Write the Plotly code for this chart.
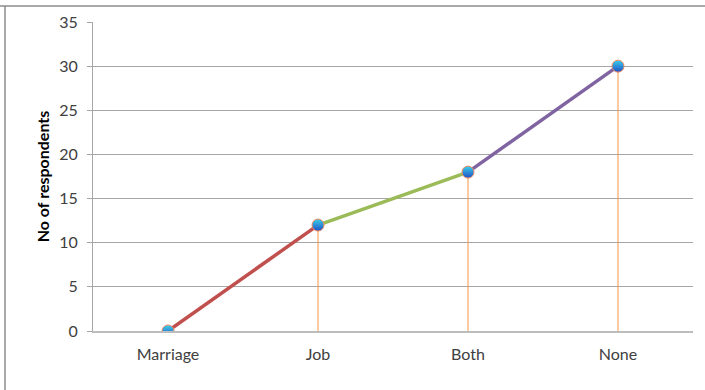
import plotly.graph_objects as go

categories = ["Marriage", "Job", "Both", "None"]
respondents = [0, 12, 18, 30]
segment_colors = ["#C0504D", "#9BBB59", "#8064A2"]
y_ticks = [0, 5, 10, 15, 20, 25, 30, 35]

fig = go.Figure()

# drop lines from each point down to the axis
for cat, val in zip(categories, respondents):
    if val > 0:
        fig.add_trace(go.Scatter(
            x=[cat, cat], y=[0, val], mode="lines",
            line=dict(color="#F79646", width=1), hoverinfo="skip", showlegend=False,
        ))

# coloured segments between consecutive points
for i, col in enumerate(segment_colors):
    fig.add_trace(go.Scatter(
        x=categories[i:i + 2], y=respondents[i:i + 2], mode="lines",
        line=dict(color=col, width=3.5), showlegend=False,
    ))

# point markers: cyan at the top fading to blue at the bottom
fig.add_trace(go.Scatter(
    x=categories, y=respondents, mode="markers",
    marker=dict(size=12, color="#3DD0EA",
                gradient=dict(type="vertical", color="#1F4FC4"),
                line=dict(color="#F08A60", width=1)),
    showlegend=False,
))

fig.update_layout(
    width=705, height=390,
    margin=dict(l=93, r=12, t=22, b=59),
    plot_bgcolor="white", paper_bgcolor="white",
    font=dict(family="Lato, Carlito, sans-serif", size=16, color="#333333"),
    xaxis=dict(
        type="category", categoryorder="array", categoryarray=categories,
        range=[-0.5, 3.5], showgrid=False, showline=True,
        linecolor="#BDBDBD", linewidth=2, ticks="", zeroline=False,
        ticklabelstandoff=8,
        tickfont=dict(size=16, color="#404040"),
    ),
    yaxis=dict(
        range=[0, 35], tickvals=y_ticks, showgrid=True, gridcolor="#A6A6A6",
        gridwidth=1, showline=True, linecolor="#A6A6A6", linewidth=1,
        ticks="outside", ticklen=5, tickcolor="#A6A6A6", zeroline=False,
        ticklabelstandoff=6,
        tickfont=dict(size=16, color="#404040"),
        title=dict(text="<b>No of respondents</b>", standoff=5,
                   font=dict(size=16, color="#000000")),
    ),
    shapes=[
        dict(type="line", xref="paper", yref="paper", x0=-93 / 600, x1=1.02,
             y0=1 + 16 / 309, y1=1 + 16 / 309, line=dict(color="#8C8C8C", width=1.5)),
        dict(type="line", xref="paper", yref="paper", x0=-88 / 600, x1=-88 / 600,
             y0=-0.2, y1=1 + 16 / 309, line=dict(color="#8C8C8C", width=1.5)),
    ],
)

fig.write_html("out.html")
